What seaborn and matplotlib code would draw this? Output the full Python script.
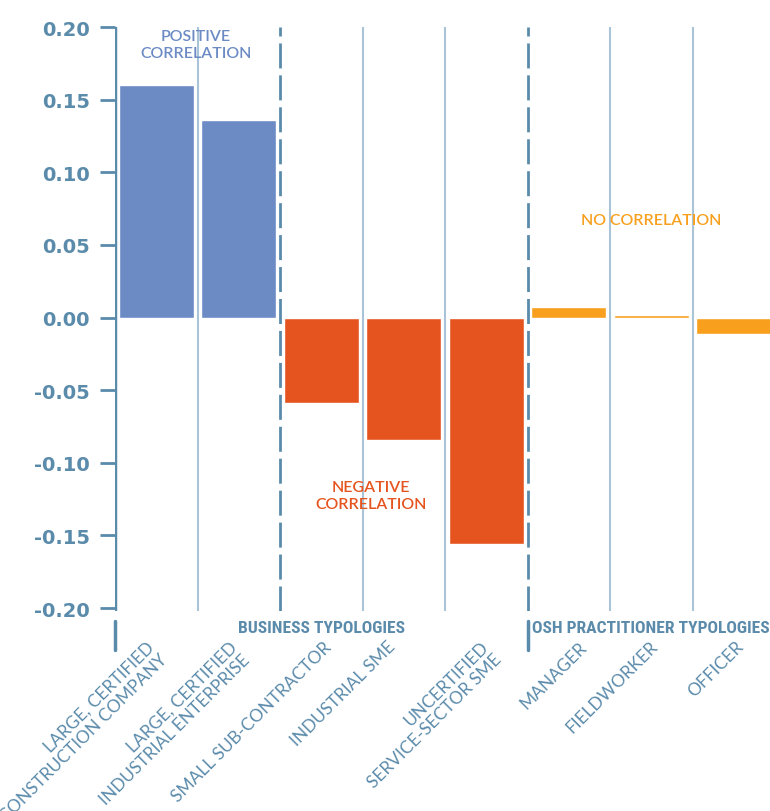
import matplotlib
matplotlib.use('Agg')
import matplotlib.pyplot as plt
import matplotlib.transforms as mtransforms
import seaborn as sns
import pandas as pd

# chart values
categories = ['LARGE, CERTIFIED\nCONSTRUCTION COMPANY', 'LARGE, CERTIFIED\nINDUSTRIAL ENTERPRISE',
              'SMALL SUB-CONTRACTOR', 'INDUSTRIAL SME', 'UNCERTIFIED\nSERVICE-SECTOR SME',
              'MANAGER', 'FIELDWORKER', 'OFFICER']
correlation = [0.160, 0.136, -0.059, -0.084, -0.156, 0.007, 0.002, -0.011]
group = ['positive', 'positive', 'negative', 'negative', 'negative', 'none', 'none', 'none']
yticks = [0.20, 0.15, 0.10, 0.05, 0.00, -0.05, -0.10, -0.15, -0.20]
group_titles = ['BUSINESS TYPOLOGIES', 'OSH PRACTITIONER TYPOLOGIES']

AXIS = '#5b8bab'
GRID = '#a9c4d6'
BLUE = '#6c8bc5'
RED = '#e5541f'
ORANGE = '#f8a01e'
colors = {'positive': BLUE, 'negative': RED, 'none': ORANGE}

sns.set_style('white')
plt.rcParams['font.family'] = ['Lato', 'DejaVu Sans']
NARROW = ['Liberation Sans Narrow', 'Roboto Condensed', 'Lato', 'DejaVu Sans']

df = pd.DataFrame({'cat': categories, 'value': correlation, 'group': group})

fig = plt.figure(figsize=(7.7, 8.12), dpi=100)
ax = fig.add_axes([115 / 770, 200 / 812, 660 / 770, 584 / 812])

sns.barplot(data=df, x='cat', y='value', hue='group', palette=colors, dodge=False,
            width=0.91, legend=False, ax=ax, zorder=3, saturation=1)

ax.set_xlim(-0.5, 7.5)
ax.set_ylim(-0.202, 0.2)
for s in ax.spines.values():
    s.set_visible(False)
ax.grid(False)

# column separators
for x in [0.5, 2.5, 3.5, 5.5, 6.5]:
    ax.axvline(x, color=GRID, lw=1.5, zorder=1)
for x in [1.5, 4.5]:
    ax.axvline(x, color=AXIS, lw=2, dashes=(9, 2.5), zorder=1)
ax.axvline(-0.5, color=AXIS, lw=2.5, zorder=4)

ax.set_yticks(yticks)
ax.set_yticklabels([f'{v:.2f}' for v in yticks])
ax.tick_params(axis='y', length=11, width=2, color=AXIS, labelcolor=AXIS,
               pad=7, direction='out', left=True)
for lab in ax.get_yticklabels():
    lab.set_fontfamily(['DejaVu Sans'])
    lab.set_fontweight('bold')
    lab.set_fontsize(14)

# rotated category labels
ax.set_xticks([])
ax.set_xlabel('')
ax.set_ylabel('')
label_nudge_px = [-10, -10, 2, -17, -6, 10, -2, 1]
blend = mtransforms.blended_transform_factory(ax.transData, ax.transAxes)
for i, lab in enumerate(categories):
    off = mtransforms.ScaledTranslation(label_nudge_px[i] / 100, -27 / 100, fig.dpi_scale_trans)
    ax.text(i, 0, lab, transform=blend + off, rotation=45, rotation_mode='anchor',
            ha='right', va='top', multialignment='right', color=AXIS, fontsize=12.5,
            linespacing=1.15)

# group titles and separators below the axis
for x in [-0.5, 4.5]:
    ax.plot([x, x], [-0.017, -0.067], transform=blend, color=AXIS, lw=2.5, clip_on=False)
ax.text(2.0, -0.029, group_titles[0], transform=blend, ha='center', va='center',
        color=AXIS, fontsize=12.6, fontweight='bold', family=NARROW)
ax.text(6.0, -0.029, group_titles[1], transform=blend, ha='center', va='center',
        color=AXIS, fontsize=12.6, fontweight='bold', family=NARROW)

# correlation annotations
ax.text(0.48, 0.188, 'POSITIVE\nCORRELATION', ha='center', va='center', color=BLUE,
        fontsize=11.5, fontweight='semibold', linespacing=1.3)
ax.text(2.6, -0.1225, 'NEGATIVE\nCORRELATION', ha='center', va='center', color=RED,
        fontsize=11.5, fontweight='semibold', linespacing=1.3)
ax.text(6.0, 0.067, 'NO CORRELATION', ha='center', va='center', color=ORANGE,
        fontsize=11.5, fontweight='semibold')

fig.savefig('out.png', dpi=100)
